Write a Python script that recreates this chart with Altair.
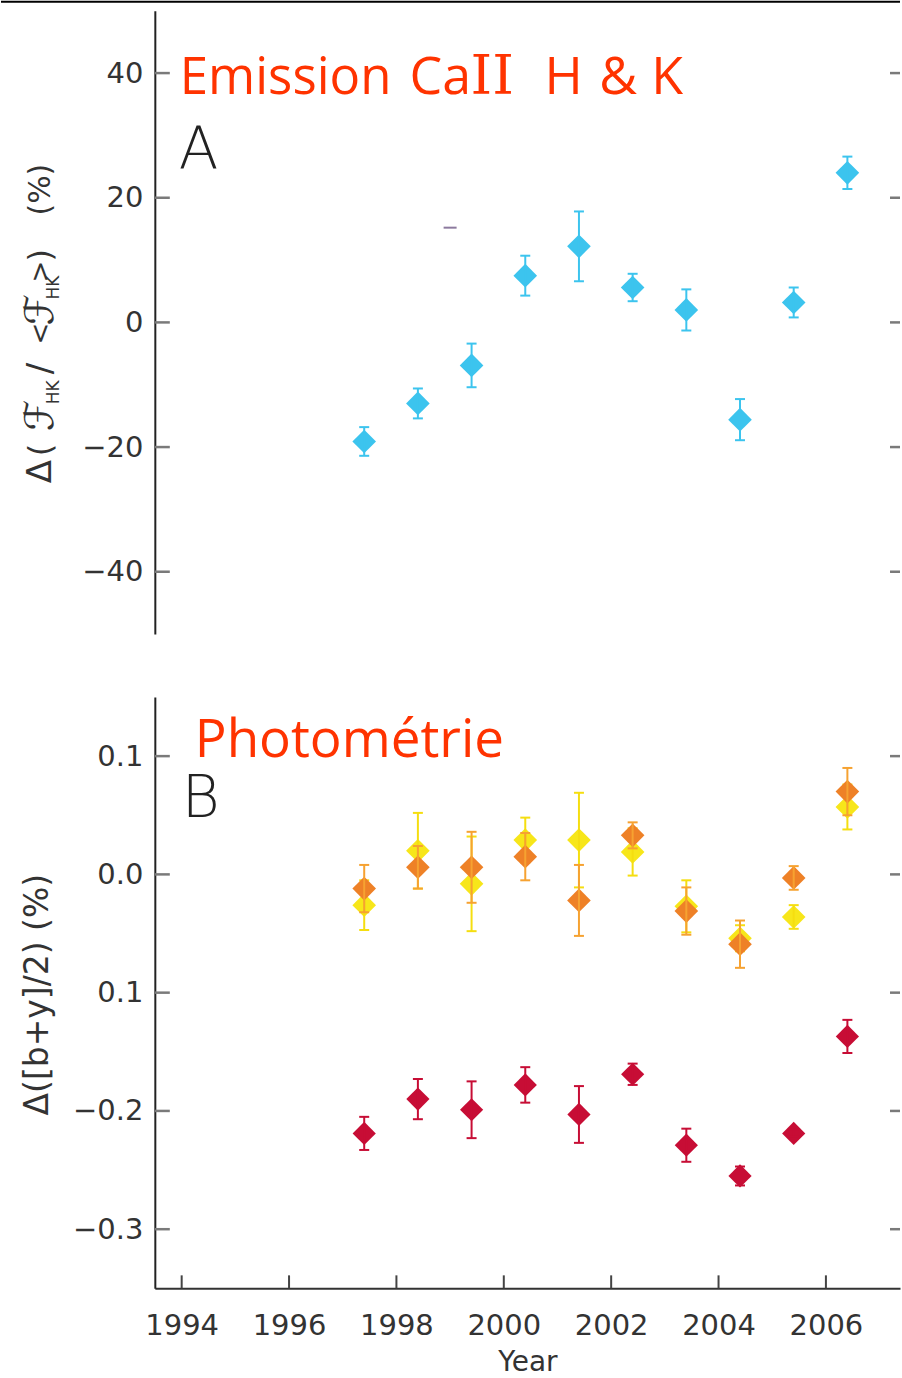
import altair as alt
import pandas as pd

# ---------------- data ----------------
years = [1997.4, 1998.4, 1999.4, 2000.4, 2001.4, 2002.4, 2003.4, 2004.4, 2005.4, 2006.4]

# Ca II H & K emission, relative change (%)
hk_val = [-19.1, -13.0, -6.9, 7.5, 12.2, 5.6, 2.0, -15.6, 3.2, 24.0]
hk_err = [2.3, 2.4, 3.5, 3.2, 5.6, 2.2, 3.3, 3.3, 2.4, 2.6]

# photometry, three series (%)
yel_val = [-0.026, 0.020, -0.008, 0.029, 0.029, 0.019, -0.027, -0.054, -0.036, 0.057]
yel_err = [0.021, 0.032, 0.040, 0.019, 0.040, 0.020, 0.022, 0.011, 0.010, 0.019]
org_val = [-0.012, 0.006, 0.006, 0.015, -0.022, 0.033, -0.031, -0.059, -0.003, 0.070]
org_err = [0.020, 0.018, 0.030, 0.020, 0.030, 0.011, 0.020, 0.020, 0.010, 0.020]
red_val = [-0.219, -0.190, -0.199, -0.178, -0.203, -0.169, -0.229, -0.255, -0.219, -0.137]
red_err = [0.014, 0.017, 0.024, 0.015, 0.024, 0.009, 0.014, 0.008, 0.003, 0.014]

# stray dash in panel A
dash_year = [1999.0]
dash_val = [15.2]

# axis ticks and labels
x_ticks = [1994, 1996, 1998, 2000, 2002, 2004, 2006]
a_ticks = [-40, -20, 0, 20, 40]
a_labels = ["\u221240", "\u221220", "0", "20", "40"]
b_ticks = [-0.3, -0.2, -0.1, 0.0, 0.1]
b_labels = ["\u22120.3", "\u22120.2", "0.1", "0.0", "0.1"]

# ---------------- layout ----------------
W, H1, H2 = 746, 624, 592
FONT = "DejaVu Sans"
INK = "#333333"
AXIS_GREY = "#7a7a7a"
RED_TXT = "#ff3300"
x_scale = alt.Scale(domain=[1993.5, 2007.38], nice=False, zero=False)
a_scale = alt.Scale(domain=[-50, 50], nice=False, zero=False)
b_scale = alt.Scale(domain=[-0.35, 0.15], nice=False, zero=False)


def label_expr(values, labels):
    vals = ",".join(repr(v) for v in values)
    labs = ",".join("'" + s + "'" for s in labels)
    return f"[{labs}][indexof([{vals}], datum.value)]"


def y_axis(ticks, labels):
    return alt.Axis(values=ticks, labelExpr=label_expr(ticks, labels), ticks=False,
                    domain=True, domainColor="#222222", domainWidth=2, grid=False,
                    labelFont=FONT, labelFontSize=29, labelColor=INK,
                    labelPadding=12, title=None)


a_y_axis = y_axis(a_ticks, a_labels)
b_y_axis = y_axis(b_ticks, b_labels)
b_x_axis = alt.Axis(values=x_ticks, format="d", ticks=False, domain=True,
                    domainColor=INK, domainWidth=2, grid=False,
                    labelFont=FONT, labelFontSize=29, labelColor=INK, labelPadding=23,
                    title="Year", titleFont=FONT, titleFontSize=28,
                    titleFontWeight="normal", titleColor=INK, titlePadding=8)


def frame(vals, errs):
    return pd.DataFrame({
        "year": years,
        "value": vals,
        "lo": [v - e for v, e in zip(vals, errs)],
        "hi": [v + e for v, e in zip(vals, errs)],
    })


def series(df, fill, bar_color, yscale, xaxis, yaxis, size=560):
    def X():
        return alt.X("year:Q", scale=x_scale, axis=xaxis)

    def Y(f):
        return alt.Y(f, scale=yscale, axis=yaxis)

    pts = alt.Chart(df).mark_point(shape="diamond", filled=True, size=size,
                                   opacity=1, color=fill).encode(x=X(), y=Y("value:Q"))
    bar = alt.Chart(df).mark_rule(color=bar_color, strokeWidth=2).encode(
        x=X(), y=Y("lo:Q"), y2="hi:Q")
    caps = [
        alt.Chart(df).mark_tick(orient="horizontal", color=bar_color, size=10,
                                thickness=2, opacity=1).encode(x=X(), y=Y(f))
        for f in ("lo:Q", "hi:Q")
    ]
    return [pts, bar] + caps


def tick_rules(ticks, yscale, yaxis):
    # inward ticks on the left and right frame edges
    tdf = pd.DataFrame({"t": ticks})
    return [
        alt.Chart(tdf).mark_rule(color=AXIS_GREY, strokeWidth=2.5).encode(
            y=alt.Y("t:Q", scale=yscale, axis=yaxis), x=alt.value(x0), x2=alt.value(x1))
        for x0, x1 in ((0, 15), (W - 10, W))
    ]


def text(s, x, y, **kw):
    return alt.Chart(pd.DataFrame({"s": [s]})).mark_text(**kw).encode(
        text="s:N", x=alt.value(x), y=alt.value(y))


def red_words(pieces, y):
    return [
        text(s, x, y, align="left", baseline="alphabetic", font=font,
             fontSize=fs, color=RED_TXT)
        for s, x, font, fs in pieces
    ]


# rotated y title of panel A, built from pieces so that HK can be subscripted
a_title_pieces = [
    ("\u0394", 473, 34, 0), ("(", 446, 32, 0), ("\u2131", 421, 40, 0),
    ("HK", 394, 17, 13), ("/", 364, 34, 0), ("<", 334, 26, 0),
    ("\u2131", 315, 40, 0), ("HK", 289, 17, 13), (">", 272, 26, 0),
    (")", 251, 32, 0), ("(%)", 205, 30, 0),
]
a_title = [
    text(s, -114 + dx, pos, angle=270, align="left", baseline="middle",
         font=FONT, fontSize=fs, color=INK)
    for s, pos, fs, dx in a_title_pieces
]

# ---------------- panel A ----------------
panel_a = alt.layer(
    alt.Chart(pd.DataFrame({"k": [0]})).mark_rule(color="black", strokeWidth=2).encode(
        x=alt.value(-154), x2=alt.value(W), y=alt.value(-9)),
    *tick_rules(a_ticks, a_scale, a_y_axis),
    alt.Chart(pd.DataFrame({"year": dash_year, "value": dash_val})).mark_tick(
        orient="horizontal", size=13, thickness=2, color="#8c7a9e", opacity=1).encode(
        x=alt.X("year:Q", scale=x_scale, axis=None),
        y=alt.Y("value:Q", scale=a_scale, axis=a_y_axis)),
    *series(frame(hk_val, hk_err), "#3cc4ee", "#3cc4ee", a_scale, None, a_y_axis),
    *red_words([("Emission", 25, "Open Sans", 51), ("Ca", 255, "Open Sans", 52),
                ("II", 316, "DejaVu Serif", 55), ("H", 390, "Open Sans", 52),
                ("&", 445, "Open Sans", 52), ("K", 497, "Open Sans", 52)], 83),
    text("A", 24, 158, align="left", baseline="alphabetic",
         font=FONT, fontSize=58, fontWeight=200, color="#222222"),
    *a_title,
).properties(width=W, height=H1)

# ---------------- panel B ----------------
xdf = pd.DataFrame({"t": x_ticks})
x_tick_layer = alt.Chart(xdf).mark_rule(color="#444444", strokeWidth=2).encode(
    x=alt.X("t:Q", scale=x_scale, axis=b_x_axis),
    y=alt.value(H2 - 13), y2=alt.value(H2))

panel_b = alt.layer(
    x_tick_layer,
    *tick_rules(b_ticks, b_scale, b_y_axis),
    *series(frame(yel_val, yel_err), "#f7e61a", "#f5de10", b_scale, b_x_axis, b_y_axis),
    *series(frame(org_val, org_err), "#ee8127", "#f6a231", b_scale, b_x_axis, b_y_axis),
    *series(frame(red_val, red_err), "#c70d35", "#c70d35", b_scale, b_x_axis, b_y_axis,
            size=540),
    *red_words([("Photom\u00e9trie", 40, "Open Sans", 53)], 60),
    text("B", 27, 120, align="left", baseline="alphabetic",
         font=FONT, fontSize=58, fontWeight=200, color="#222222"),
    text("\u0394([b+y]/2)  (%)", -117, 298, angle=270, align="center",
         baseline="middle", font=FONT, fontSize=33, color=INK),
).properties(width=W, height=H2)

chart = alt.vconcat(panel_a, panel_b, spacing=63, bounds="flush").configure_view(
    stroke=None).properties(padding=0, background="white")

chart.save("out.html", embed_options={"renderer": "svg", "actions": False})
